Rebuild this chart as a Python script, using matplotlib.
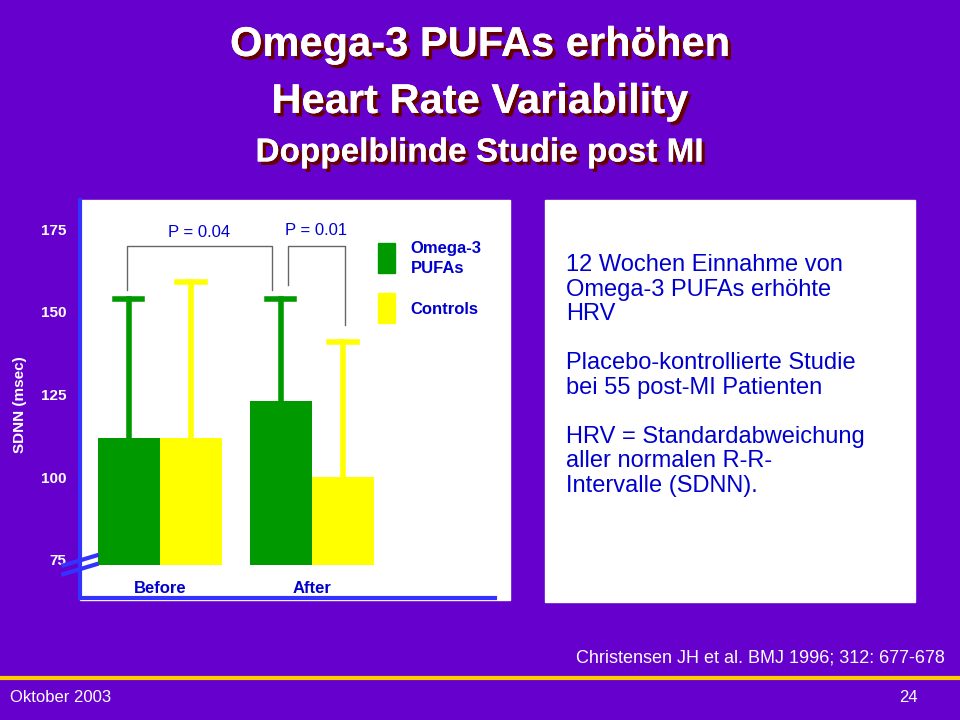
import matplotlib
matplotlib.use("Agg")
import matplotlib.pyplot as plt
import matplotlib.patheffects as pe
from matplotlib.patches import Rectangle

plt.rcParams["font.family"] = "Liberation Sans"

groups = ["Before", "After"]
omega_mean = [112, 123]
control_mean = [112, 100]
omega_upper = [154, 154]
control_upper = [159, 141]
yticks = [75, 100, 125, 150, 175]
baseline = 73.5

purple = "#6600CC"
green = "#009900"
yellow = "#FFFF00"
blue = "#0000CC"
axblue = "#3333FF"

fig = plt.figure(figsize=(9.6, 7.2), dpi=100, facecolor=purple)

# white panels
fig.patches.append(Rectangle((80/960, 1-600/720), 430/960, 400/720, transform=fig.transFigure, color="white", zorder=0))
fig.patches.append(Rectangle((545/960, 1-602/720), 370/960, 402/720, transform=fig.transFigure, color="white", zorder=0))

shadow = [pe.withSimplePatchShadow(offset=(2.5, -2.5), shadow_rgbFace="#660000", alpha=1), pe.Normal()]
fig.text(0.5, 1-45/720, "Omega-3 PUFAs erhöhen", ha="center", va="center", color="white", fontsize=30, fontweight="bold", path_effects=shadow)
fig.text(0.5, 1-102/720, "Heart Rate Variability", ha="center", va="center", color="white", fontsize=30, fontweight="bold", path_effects=shadow)
fig.text(0.5, 1-153/720, "Doppelblinde Studie post MI", ha="center", va="center", color="white", fontsize=24, fontweight="bold", path_effects=shadow)

ax = fig.add_axes([80/960, 1-598/720, 415/960, 398/720])
ax.set_zorder(2)
ax.patch.set_alpha(0)
ax.set_xlim(-0.526, 2.204)
ax.set_ylim(63.5, 183.8)
for s in ["top", "right"]:
    ax.spines[s].set_visible(False)
for s in ["left", "bottom"]:
    ax.spines[s].set_color(axblue)
    ax.spines[s].set_linewidth(3)
ax.set_xticks([])
ax.set_yticks(yticks)
ax.set_yticklabels([str(t) for t in yticks], color="white", fontsize=11, fontweight="bold")
ax.tick_params(axis="y", length=0, pad=10)
fig.text(20/960, 1-405/720, "SDNN (msec)", rotation=90, ha="center", va="center", color="white", fontsize=11, fontweight="bold")

w = 0.41
xs = [0, 1]
for i, x in enumerate(xs):
    ax.bar(x - w/2, omega_mean[i] - baseline, w, bottom=baseline, color=green)
    ax.bar(x + w/2, control_mean[i] - baseline, w, bottom=baseline, color=yellow)
    ax.plot([x - w/2]*2, [omega_mean[i], omega_upper[i]], color=green, lw=4)
    ax.plot([x - w/2 - 0.09, x - w/2 + 0.09], [omega_upper[i]]*2, color=green, lw=4)
    ax.plot([x + w/2]*2, [control_mean[i], control_upper[i]], color=yellow, lw=4)
    ax.plot([x + w/2 - 0.09, x + w/2 + 0.09], [control_upper[i]]*2, color=yellow, lw=4)
    ax.text(x, 66.5, groups[i], ha="center", va="center", color=blue, fontsize=12, fontweight="bold")

# significance brackets
ax.plot([-0.217, -0.217, 0.737, 0.737], [156.5, 170, 170, 156.5], color="#666666", lw=1)
ax.text(0.26, 174, "P = 0.04", ha="center", va="center", color=blue, fontsize=12)
ax.plot([0.842, 0.842, 1.217, 1.217], [158, 170, 170, 146], color="#666666", lw=1)
ax.text(1.03, 174.5, "P = 0.01", ha="center", va="center", color=blue, fontsize=12)

# legend
ax.add_patch(Rectangle((1.434, 161.7), 0.112, 9.1, color=green))
ax.add_patch(Rectangle((1.434, 146.6), 0.112, 9.1, color=yellow))
ax.text(1.65, 166, "Omega-3\nPUFAs", ha="left", va="center", color=blue, fontsize=12, fontweight="bold", linespacing=1.4)
ax.text(1.65, 150.8, "Controls", ha="left", va="center", color=blue, fontsize=12, fontweight="bold")

# axis break marks
for dy in [0, 0.022]:
    ax.plot([-0.04, 0.04], [0.06 + dy, 0.085 + dy], transform=ax.transAxes, color=axblue, lw=3, clip_on=False)

body = ("12 Wochen Einnahme von\nOmega-3 PUFAs erhöhte\nHRV\n\n"
        "Placebo-kontrollierte Studie\nbei 55 post-MI Patienten\n\n"
        "HRV = Standardabweichung\naller normalen R-R-\nIntervalle (SDNN).")
fig.text(566/960, 1-254/720, body, ha="left", va="top", color=blue, fontsize=17, linespacing=1.15)

fig.text(945/960, 1-658/720, "Christensen JH et al. BMJ 1996; 312: 677-678", ha="right", va="center", color="white", fontsize=13)
fig.add_artist(plt.Line2D([0, 1], [1-678/720]*2, color="#FFCC00", lw=3, transform=fig.transFigure))
fig.text(10/960, 1-697/720, "Oktober 2003", ha="left", va="center", color="white", fontsize=12)
fig.text(918/960, 1-697/720, "24", ha="right", va="center", color="white", fontsize=12)

fig.savefig("out.png", dpi=100, facecolor=purple)
